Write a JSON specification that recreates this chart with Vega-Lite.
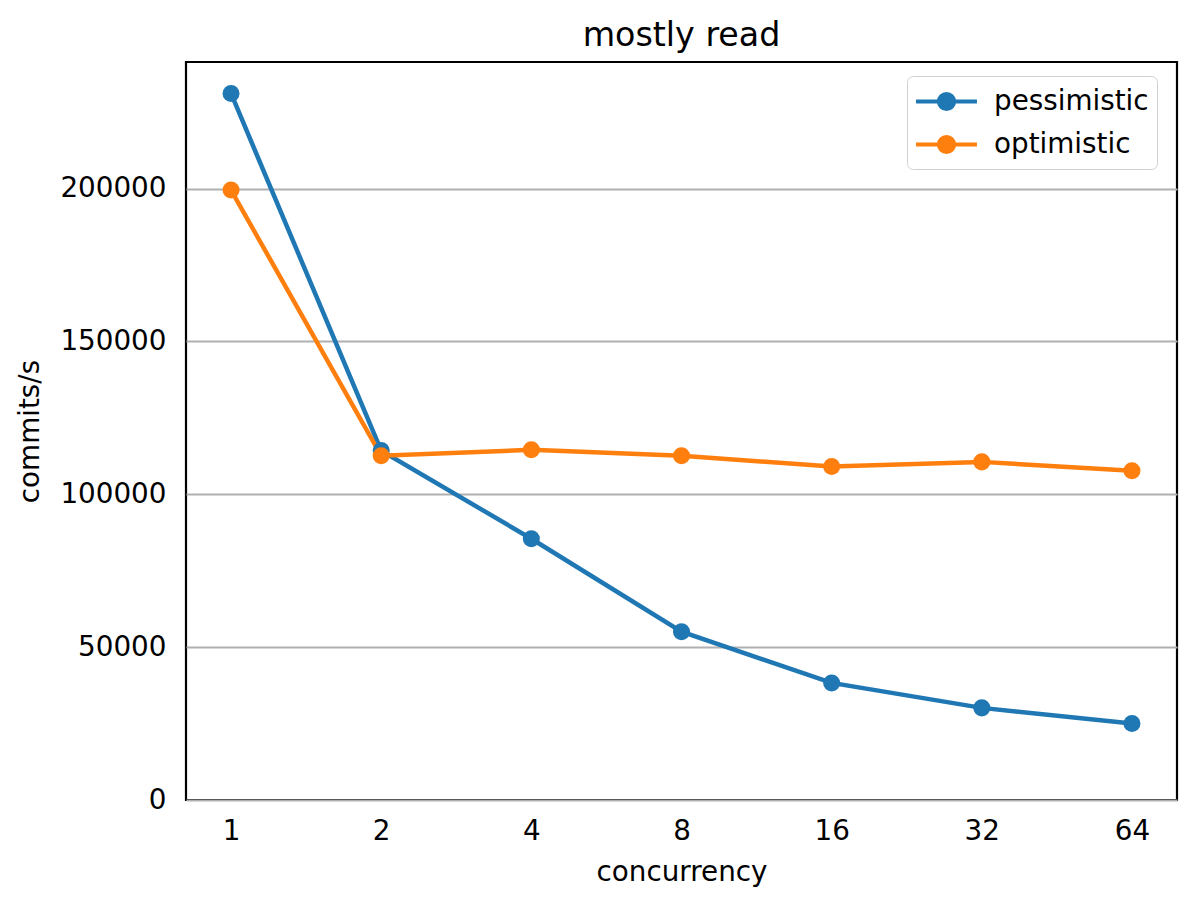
{
  "$schema": "https://vega.github.io/schema/vega-lite/v6.json",
  "autosize": "none",
  "width": 991,
  "height": 738,
  "padding": {"left": 186, "top": 62, "right": 21, "bottom": 107},
  "background": "white",
  "title": {
    "text": "mostly read",
    "font": "DejaVu Sans",
    "fontSize": 33.3,
    "fontWeight": "normal",
    "color": "black",
    "anchor": "middle",
    "offset": 9
  },
  "data": {
    "values": [
      {"concurrency": 1, "commits": 231100, "mode": "pessimistic"},
      {"concurrency": 2, "commits": 114300, "mode": "pessimistic"},
      {"concurrency": 4, "commits": 85450, "mode": "pessimistic"},
      {"concurrency": 8, "commits": 55050, "mode": "pessimistic"},
      {"concurrency": 16, "commits": 38300, "mode": "pessimistic"},
      {"concurrency": 32, "commits": 30130, "mode": "pessimistic"},
      {"concurrency": 64, "commits": 25000, "mode": "pessimistic"},
      {"concurrency": 1, "commits": 199500, "mode": "optimistic"},
      {"concurrency": 2, "commits": 112600, "mode": "optimistic"},
      {"concurrency": 4, "commits": 114550, "mode": "optimistic"},
      {"concurrency": 8, "commits": 112600, "mode": "optimistic"},
      {"concurrency": 16, "commits": 109100, "mode": "optimistic"},
      {"concurrency": 32, "commits": 110600, "mode": "optimistic"},
      {"concurrency": 64, "commits": 107700, "mode": "optimistic"}
    ]
  },
  "mark": {
    "type": "line",
    "strokeWidth": 4.5,
    "point": {"filled": true, "size": 290, "opacity": 1}
  },
  "encoding": {
    "x": {
      "field": "concurrency",
      "type": "quantitative",
      "title": "concurrency",
      "scale": {"type": "log", "base": 2, "domain": [0.81225, 78.793], "nice": false},
      "axis": {
        "values": [1, 2, 4, 8, 16, 32, 64],
        "format": "d",
        "grid": false,
        "domain": false,
        "ticks": false,
        "labelPadding": 17,
        "titlePadding": 14
      }
    },
    "y": {
      "field": "commits",
      "type": "quantitative",
      "title": "commits/s",
      "scale": {"domain": [0, 241400], "nice": false, "zero": true},
      "axis": {
        "values": [0, 50000, 100000, 150000, 200000],
        "format": "d",
        "grid": true,
        "domain": false,
        "ticks": false,
        "labelPadding": 20,
        "titlePadding": 15
      }
    },
    "color": {
      "field": "mode",
      "type": "nominal",
      "sort": ["pessimistic", "optimistic"],
      "scale": {"domain": ["pessimistic", "optimistic"], "range": ["#1f77b4", "#ff7f0e"]},
      "legend": {
        "title": null,
        "orient": "none",
        "legendX": 721,
        "legendY": 14,
        "symbolType": "M-2.03,0L-0.5,0M0.5,0L2.03,0M-0.5,0A0.5,0.5 0 1,0 0.5,0A0.5,0.5 0 1,0 -0.5,0Z",
        "symbolSize": 900,
        "symbolStrokeWidth": 4.2,
        "symbolOffset": 14,
        "labelOffset": 30,
        "labelFont": "DejaVu Sans",
        "labelFontSize": 27.8,
        "labelColor": "black",
        "rowPadding": 9,
        "padding": 8,
        "strokeColor": "#d0d0d0",
        "fillColor": "white",
        "cornerRadius": 6
      }
    },
    "order": {"field": "concurrency", "type": "quantitative"}
  },
  "config": {
    "view": {"stroke": "black", "strokeWidth": 2.2},
    "axis": {
      "labelFont": "DejaVu Sans",
      "labelFontSize": 27.8,
      "labelColor": "black",
      "titleFont": "DejaVu Sans",
      "titleFontSize": 27.8,
      "titleFontWeight": "normal",
      "titleColor": "black",
      "gridColor": "#b0b0b0",
      "gridWidth": 2.2
    }
  }
}
